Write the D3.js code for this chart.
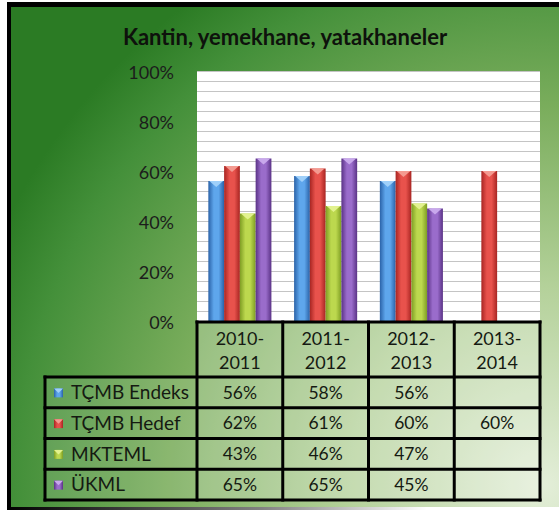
<!DOCTYPE html>
<html>
<head>
    <meta charset="utf-8">
    <title>Kantin, yemekhane, yatakhaneler</title>
    <script src="https://d3js.org/d3.v7.min.js"></script>
    <style>
        body { margin: 0; background: #fff; }
        text { font-family: Lato, "Open Sans", sans-serif; }
    </style>
</head>
<body>
<div id="chart"></div>
<script>
    // chart data
    var title = "Kantin, yemekhane, yatakhaneler";
    var years = ["2010-2011", "2011-2012", "2012-2013", "2013-2014"];
    var series = ["TÇMB Endeks", "TÇMB Hedef", "MKTEML", "ÜKML"];
    var endeks = [56, 58, 56, null];
    var hedef = [62, 61, 60, 60];
    var mkteml = [43, 46, 47, null];
    var ukml = [65, 65, 45, null];
    var yTicks = [0, 20, 40, 60, 80, 100];

    var values = [endeks, hedef, mkteml, ukml];
    // edge, middle, cap colours for each series
    var colors = [
        ["#2a62a8", "#5ea6ec", "#9fd0fa"],
        ["#a82522", "#e8524c", "#f49a90"],
        ["#7e9d23", "#bcd84e", "#e2f28e"],
        ["#5a3286", "#9a6ccb", "#c8a8ec"]
    ];

    var W = 559, H = 510;
    var plot = { left: 197, right: 540, top: 71, bottom: 321 };
    var table = { top: 322, head: 377, bottom: 500, labelLeft: 45 };
    var ink = "#151a12";

    var svg = d3.select("#chart").append("svg")
        .attr("width", W)
        .attr("height", H);

    var defs = svg.append("defs");

    // green background
    var bg = defs.append("radialGradient")
        .attr("id", "bg")
        .attr("gradientUnits", "userSpaceOnUse")
        .attr("cx", 545).attr("cy", 485).attr("r", 600);
    bg.append("stop").attr("offset", 0).attr("stop-color", "#e3eed8");
    bg.append("stop").attr("offset", 0.33).attr("stop-color", "#b4d19a");
    bg.append("stop").attr("offset", 0.63).attr("stop-color", "#7aad5c");
    bg.append("stop").attr("offset", 0.88).attr("stop-color", "#44903a");
    bg.append("stop").attr("offset", 1).attr("stop-color", "#2b7b24");

    var shadow = defs.append("linearGradient").attr("id", "shadow");
    shadow.append("stop").attr("offset", 0).attr("stop-color", "#000").attr("stop-opacity", 1);
    shadow.append("stop").attr("offset", 0.6).attr("stop-color", "#000").attr("stop-opacity", 0.5);
    shadow.append("stop").attr("offset", 1).attr("stop-color", "#000").attr("stop-opacity", 0);

    colors.forEach(function (c, i) {
        var g = defs.append("linearGradient").attr("id", "bar" + i);
        g.append("stop").attr("offset", 0).attr("stop-color", c[0]);
        g.append("stop").attr("offset", 0.35).attr("stop-color", c[1]);
        g.append("stop").attr("offset", 0.65).attr("stop-color", c[1]);
        g.append("stop").attr("offset", 1).attr("stop-color", c[0]);
    });

    svg.append("rect").attr("x", 11).attr("y", 7).attr("width", W - 11).attr("height", 500)
        .attr("fill", "url(#bg)");

    // black frame
    svg.append("rect").attr("x", 7).attr("y", 2).attr("width", 4).attr("height", 508).attr("fill", "#000");
    svg.append("rect").attr("x", 7).attr("y", 2).attr("width", W - 7).attr("height", 5).attr("fill", "#000");
    svg.append("rect").attr("x", 7).attr("y", 507).attr("width", 420).attr("height", 3).attr("fill", "url(#shadow)");

    svg.append("text")
        .attr("x", 285).attr("y", 45)
        .attr("text-anchor", "middle")
        .style("font-size", "22px")
        .style("font-weight", "bold")
        .attr("fill", "#0e120c")
        .text(title);

    // scales
    var y = d3.scaleLinear().domain([0, 100]).range([plot.bottom, plot.top]);
    var x0 = d3.scaleBand().domain(years).range([plot.left, plot.right]);
    var x1 = d3.scaleBand().domain(series).range([0, x0.bandwidth()]).paddingOuter(0.72);

    svg.append("rect")
        .attr("x", plot.left).attr("y", plot.top)
        .attr("width", plot.right - plot.left).attr("height", plot.bottom - plot.top)
        .attr("fill", "#fff");

    // gridlines every 4 %
    svg.append("g")
        .selectAll("line")
        .data(d3.range(4, 101, 4))
        .join("line")
        .attr("x1", plot.left).attr("x2", plot.right)
        .attr("y1", function (d) { return Math.round(y(d)) + 0.5; })
        .attr("y2", function (d) { return Math.round(y(d)) + 0.5; })
        .attr("stroke", "#c4c4c4");

    // y axis labels
    var yAxis = svg.append("g")
        .attr("transform", "translate(" + plot.left + ",0)")
        .call(d3.axisLeft(y).tickValues(yTicks).tickSize(0).tickPadding(23)
            .tickFormat(function (d) { return d + "%"; }));
    yAxis.select(".domain").remove();
    yAxis.selectAll("text")
        .style("font-size", "18px")
        .style("font-family", "Lato, sans-serif")
        .attr("fill", "#1c1c1c")
        .attr("dy", "0.4em");

    // bars
    var groups = svg.append("g")
        .selectAll("g")
        .data(years)
        .join("g")
        .attr("transform", function (d) { return "translate(" + x0(d) + ",0)"; });

    groups.each(function (yr, yi) {
        var g = d3.select(this);
        series.forEach(function (s, si) {
            var v = values[si][yi];
            if (v == null) return;
            var bx = x1(s), bw = x1.bandwidth(), top = y(v);
            g.append("rect")
                .attr("x", bx).attr("y", top)
                .attr("width", bw).attr("height", y(0) - top)
                .attr("fill", "url(#bar" + si + ")");
            g.append("path")
                .attr("d", "M" + (bx + 1) + "," + top + "L" + (bx + bw - 1) + "," + top +
                    "L" + (bx + bw / 2) + "," + (top + 6) + "Z")
                .attr("fill", colors[si][2]);
        });
    });

    // data table
    var rowH = (table.bottom - table.head) / series.length;
    var cells = svg.append("g");

    years.forEach(function (yr, i) {
        var parts = yr.split("-");
        cells.append("rect")
            .attr("x", x0(yr)).attr("y", table.top)
            .attr("width", x0.bandwidth()).attr("height", table.head - table.top)
            .attr("fill", "#fff").attr("fill-opacity", 0.22);
        var t = cells.append("text")
            .attr("x", x0(yr) + x0.bandwidth() / 2)
            .attr("text-anchor", "middle")
            .style("font-size", "18px")
            .attr("fill", ink);
        t.append("tspan").attr("x", x0(yr) + x0.bandwidth() / 2).attr("y", 345).text(parts[0] + "-");
        t.append("tspan").attr("x", x0(yr) + x0.bandwidth() / 2).attr("y", 369).text(parts[1]);
    });

    series.forEach(function (s, si) {
        var ry = table.head + si * rowH;
        cells.append("rect")
            .attr("x", table.labelLeft).attr("y", ry)
            .attr("width", plot.left - table.labelLeft).attr("height", rowH)
            .attr("fill", "#fff").attr("fill-opacity", 0.12);
        cells.append("rect")
            .attr("x", 54).attr("y", ry + rowH / 2 - 4)
            .attr("width", 9).attr("height", 9)
            .attr("fill", "url(#bar" + si + ")");
        cells.append("path")
            .attr("d", "M54," + (ry + rowH / 2 - 4) + "h9l-4.5,4.5z")
            .attr("fill", colors[si][2]);
        cells.append("text")
            .attr("x", 71).attr("y", ry + rowH / 2)
            .attr("dy", "0.36em")
            .style("font-size", "19px")
            .attr("fill", ink)
            .text(s);

        years.forEach(function (yr, yi) {
            var v = values[si][yi];
            cells.append("rect")
                .attr("x", x0(yr)).attr("y", ry)
                .attr("width", x0.bandwidth()).attr("height", rowH)
                .attr("fill", "#fff").attr("fill-opacity", 0.22);
            if (v == null) return;
            cells.append("text")
                .attr("x", x0(yr) + x0.bandwidth() / 2).attr("y", ry + rowH / 2)
                .attr("dy", "0.36em")
                .attr("text-anchor", "middle")
                .style("font-size", "17.5px")
                .attr("fill", ink)
                .text(v + "%");
        });
    });

    // table borders
    var lines = [];
    lines.push([plot.left, table.top, plot.right, table.top]);
    d3.range(series.length + 1).forEach(function (i) {
        var ly = table.head + i * rowH;
        lines.push([table.labelLeft, ly, plot.right, ly]);
    });
    lines.push([table.labelLeft, table.head, table.labelLeft, table.bottom]);
    years.forEach(function (yr) {
        lines.push([x0(yr), table.top, x0(yr), table.bottom]);
    });
    lines.push([plot.right, table.top, plot.right, table.bottom]);

    svg.append("g")
        .selectAll("line")
        .data(lines)
        .join("line")
        .attr("x1", function (d) { return d[0]; })
        .attr("y1", function (d) { return d[1]; })
        .attr("x2", function (d) { return d[2]; })
        .attr("y2", function (d) { return d[3]; })
        .attr("stroke", "#000")
        .attr("stroke-width", 3)
        .attr("stroke-linecap", "square");
</script>
</body>
</html>
